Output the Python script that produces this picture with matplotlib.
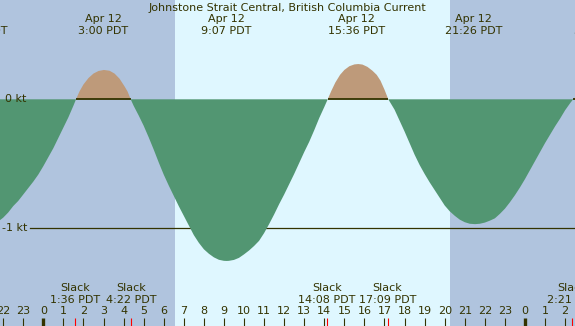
import matplotlib
matplotlib.use("Agg")
import matplotlib.pyplot as plt
import matplotlib.transforms as mtransforms
import numpy as np

# current speed (kt), hours from Apr 12 00:00 PDT
hours = [-2.25, -2.0, -1.75, -1.5, -1.25, -1.0, -0.75, -0.5, -0.25, 0.0,
         0.25, 0.5, 0.75, 1.0, 1.25, 1.5, 1.63,
         1.8, 2.0, 2.25, 2.5, 2.75, 3.02, 3.3, 3.55, 3.8, 4.05, 4.2, 4.355,
         4.5, 4.75, 5.0, 5.25, 5.5, 5.75, 6.0, 6.25, 6.5, 6.75, 7.0, 7.25,
         7.5, 7.75, 8.0, 8.25, 8.5, 8.75, 9.0, 9.14, 9.25, 9.5, 9.75, 10.0,
         10.25, 10.5, 10.75, 11.0, 11.25, 11.5, 11.75, 12.0, 12.25, 12.5,
         12.75, 13.0, 13.25, 13.5, 13.75, 14.0, 14.17,
         14.35, 14.55, 14.786, 15.0, 15.25, 15.5, 15.695, 15.9, 16.15, 16.4,
         16.612, 16.8, 17.0, 17.19,
         17.5, 17.75, 18.0, 18.25, 18.5, 18.75, 19.0, 19.25, 19.5, 19.75,
         20.0, 20.25, 20.5, 20.75, 21.0, 21.25, 21.51, 21.75, 22.0, 22.25,
         22.5, 22.75, 23.0, 23.25, 23.5, 23.75, 24.0, 24.25, 24.5, 24.75,
         25.0, 25.25, 25.5, 25.75, 26.0, 26.25, 26.4, 26.6]
knots = [-0.95, -0.92, -0.88, -0.83, -0.79, -0.74, -0.69, -0.64, -0.585, -0.52,
         -0.45, -0.38, -0.30, -0.22, -0.14, -0.05, 0.0,
         0.06, 0.115, 0.165, 0.2, 0.22, 0.228, 0.222, 0.2, 0.16, 0.1, 0.06, 0.0,
         -0.05, -0.125, -0.205, -0.295, -0.39, -0.49, -0.585, -0.67, -0.75, -0.83, -0.905, -0.98,
         -1.055, -1.115, -1.165, -1.2, -1.228, -1.247, -1.255, -1.256, -1.255, -1.248, -1.232, -1.205,
         -1.175, -1.14, -1.10, -1.04, -0.97, -0.895, -0.815, -0.74, -0.66, -0.58,
         -0.495, -0.41, -0.33, -0.24, -0.145, -0.06, 0.0,
         0.065, 0.13, 0.19, 0.228, 0.257, 0.271, 0.274, 0.27, 0.252, 0.222,
         0.19, 0.145, 0.075, 0.0,
         -0.08, -0.165, -0.25, -0.34, -0.43, -0.51, -0.58, -0.645, -0.705, -0.765,
         -0.825, -0.87, -0.905, -0.935, -0.955, -0.967, -0.97, -0.967, -0.958, -0.943,
         -0.925, -0.89, -0.85, -0.80, -0.745, -0.685, -0.62, -0.55, -0.48, -0.41,
         -0.34, -0.275, -0.21, -0.15, -0.085, -0.03, 0.0, 0.03]

# max flood / ebb labels (top)
max_times = [-3.2, 3.0, 9.117, 15.6, 21.433, 27.7]
max_dates = ["Apr 11", "Apr 12", "Apr 12", "Apr 12", "Apr 12", "Apr 13"]
max_labels = ["20:48 PDT", "3:00 PDT", "9:07 PDT", "15:36 PDT", "21:26 PDT", "3:41 PDT"]

# slack water (bottom)
slack_times = [1.6, 4.367, 14.133, 17.15, 26.35]
slack_labels = ["1:36 PDT", "4:22 PDT", "14:08 PDT", "17:09 PDT", "2:21 PDT"]

sunrise, sunset = 6.562, 20.26
hour_ticks = list(range(-2, 27))

W, H = 575, 326
PX_H = 20.07          # px per hour
X0 = 43.3             # px of midnight
PX_KT = 128.7         # px per knot
Y0 = 99.3             # px of 0 kt

INK = "#333300"
NIGHT = "#b0c4de"
DAY = "#dff7ff"
EBB = "#529672"
FLOOD = "#be9a7a"

fig = plt.figure(figsize=(W / 100, H / 100), dpi=100)
ax = fig.add_axes([0, 0, 1, 1])
ax.set_xlim(-X0 / PX_H, (W - X0) / PX_H)
ax.set_ylim((Y0 - H) / PX_KT, Y0 / PX_KT)
ax.axis("off")
fig.patch.set_facecolor(NIGHT)
ax.set_facecolor(NIGHT)
ax.axvspan(sunrise, sunset, color=DAY, lw=0, zorder=0)

t = np.array(hours)
v = np.array(knots)
x_left = ax.get_xlim()[0]

# zero line only shows under the flood humps
ax.plot(t, np.where(v >= 0, 0.0, np.nan), color=INK, lw=1.3, zorder=2,
        solid_capstyle="butt")
ax.plot([x_left + 30 / PX_H, 30], [-1, -1], color=INK, lw=0.9, zorder=1)
ax.fill_between(t, 0, v, where=v >= 0, interpolate=True, color=FLOOD, lw=0, zorder=1)
ax.fill_between(t, 0, v, where=v <= 0, interpolate=True, color=EBB, lw=0, zorder=3)

fs = 8
trans = mtransforms.blended_transform_factory(ax.transData, ax.transAxes)


def ypx(p):
    return 1 - p / H


ax.text(x_left + 5 / PX_H, 0, "0 kt", color=INK, fontsize=fs,
        ha="left", va="center", zorder=5)
ax.text(x_left + 2 / PX_H, -1, "-1 kt", color=INK, fontsize=fs,
        ha="left", va="center", zorder=5)

ax.text(0.5, ypx(8), "Johnstone Strait Central, British Columbia Current",
        transform=ax.transAxes, ha="center", va="center", color=INK, fontsize=fs)
for tm, d, lab in zip(max_times, max_dates, max_labels):
    ax.text(tm, ypx(19), d, transform=trans, ha="center", va="center", color=INK, fontsize=fs)
    ax.text(tm, ypx(31), lab, transform=trans, ha="center", va="center", color=INK, fontsize=fs)

for tm, lab in zip(slack_times, slack_labels):
    ax.text(tm, ypx(288), "Slack", transform=trans, ha="center", va="center", color=INK, fontsize=fs)
    ax.text(tm, ypx(300), lab, transform=trans, ha="center", va="center", color=INK, fontsize=fs)
    ax.plot([tm, tm], [ypx(318), ypx(326)], transform=trans, color="red", lw=0.8,
            solid_capstyle="butt", zorder=4)

for h in hour_ticks:
    ax.text(h, ypx(311), str(h % 24), transform=trans, ha="center", va="center",
            color=INK, fontsize=fs)
    ax.plot([h, h], [ypx(318), ypx(326)], transform=trans, color=INK,
            lw=2.4 if h % 24 == 0 else 0.8, solid_capstyle="butt")

fig.savefig("out.png", dpi=100, facecolor=NIGHT)
